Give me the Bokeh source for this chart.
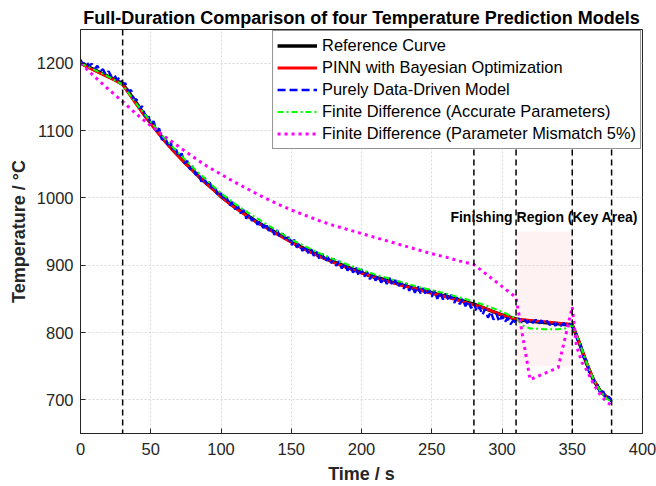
from bokeh.plotting import figure
from bokeh.models import (Span, BoxAnnotation, Label, Legend, LegendItem,
                          FixedTicker, Range1d)
from bokeh.embed import file_html
from bokeh.resources import INLINE

# ---------------- data ----------------
t_ref = list(range(0, 376, 5)) + [378]
ref_curve = [1200, 1195, 1190, 1185, 1180, 1175, 1169, 1155, 1140, 1125,
             1111, 1098, 1085, 1073, 1062, 1051, 1041, 1030, 1021, 1012,
             1002, 994, 986, 979, 972, 965, 959, 953, 947, 941,
             935, 929, 924, 919, 914, 909, 905, 901, 897, 893,
             889, 885, 882, 879, 876, 873, 870, 867, 864, 862,
             859, 856, 854, 851, 848, 845, 842, 838, 834, 830,
             826, 823, 820, 818, 817, 816, 815, 814, 813, 812,
             811, 785, 755, 730, 713, 703,
             700]
pinn_bo = [1200, 1194, 1189, 1184, 1179, 1174, 1168, 1153, 1138, 1124,
           1110, 1097, 1084, 1072, 1061, 1050, 1040, 1030, 1020, 1011,
           1002, 993, 985, 978, 971, 964, 958, 952, 946, 940,
           934, 928, 923, 918, 913, 909, 904, 900, 896, 892,
           888, 885, 881, 878, 875, 872, 869, 867, 864, 861,
           858, 856, 853, 850, 847, 844, 841, 838, 834, 830,
           826, 823, 820, 819, 818, 817, 816, 815, 814, 813,
           812, 786, 756, 731, 713, 703,
           700]

t_dd = list(range(0, 379, 2))
data_driven = [1205, 1198, 1203, 1196, 1199, 1191, 1196, 1188, 1191, 1183,
               1188, 1180, 1183, 1175, 1179, 1170, 1170, 1158, 1160, 1146,
               1146, 1133, 1136, 1121, 1125, 1108, 1114, 1099, 1103, 1086,
               1092, 1079, 1084, 1068, 1072, 1060, 1066, 1051, 1055, 1042,
               1047, 1034, 1038, 1024, 1031, 1018, 1023, 1011, 1014, 1002,
               1007, 996, 1001, 988, 994, 983, 988, 977, 982, 969,
               977, 966, 970, 960, 966, 955, 962, 951, 957, 945,
               952, 941, 947, 936, 942, 929, 938, 926, 932, 921,
               929, 918, 925, 914, 920, 909, 917, 905, 912, 902,
               910, 899, 906, 895, 903, 892, 899, 889, 897, 884,
               894, 883, 890, 879, 887, 877, 885, 874, 882, 872,
               881, 870, 878, 867, 875, 865, 873, 862, 870, 859,
               869, 858, 866, 855, 864, 853, 862, 850, 860, 849,
               858, 847, 856, 844, 852, 842, 850, 839, 847, 836,
               844, 831, 838, 826, 835, 822, 831, 819, 828, 816,
               825, 815, 822, 812, 818, 814, 821, 815, 820, 814,
               820, 814, 819, 813, 818, 812, 817, 811, 816, 810,
               815, 810, 814, 809, 813, 808, 804, 786, 782, 763,
               759, 741, 739, 723, 723, 709, 713, 701, 705, 697]

t_fd = [0, 10, 20, 30, 40, 50, 60, 70, 80, 90, 100, 110, 120, 130, 140, 150,
        160, 170, 180, 190, 200, 210, 220, 230, 240, 250, 260, 270, 280, 290,
        300, 310, 315, 320, 330, 340, 345, 350, 355, 360, 365, 370, 375, 378]
fd_accurate = [1200, 1190, 1180, 1168, 1139, 1113, 1088, 1066, 1045, 1026,
               1007, 991, 977, 964, 951, 938, 928, 918, 909, 901, 893, 886,
               880, 874, 868, 863, 858, 852, 846, 839, 831, 821, 810, 806,
               805, 805, 806, 811, 786, 756, 731, 713, 701, 697]

t_mm = [0, 10, 20, 30, 40, 50, 60, 70, 80, 90, 100, 110, 120, 130, 140, 150,
        160, 170, 180, 190, 200, 210, 220, 230, 240, 250, 260, 270, 280,
        310, 320, 340, 350, 353, 357, 360, 365, 370, 375, 378]
fd_mismatch = [1200, 1180, 1161, 1143, 1124, 1107, 1091, 1076, 1061, 1047,
               1035, 1023, 1012, 1001, 991, 982, 974, 966, 959, 953, 947,
               941, 935, 929, 923, 917, 912, 906, 901,
               852, 730, 748, 838, 780, 755, 745, 724, 707, 696, 692]

key_times = [30, 280, 310, 350, 378]
key_region = {"start": 310, "end": 350, "low": 750, "high": 950}
x_ticks = [0, 50, 100, 150, 200, 250, 300, 350, 400]
y_ticks = [700, 800, 900, 1000, 1100, 1200]

title_text = "Full-Duration Comparison of four Temperature Prediction Models"
region_text = "Finishing Region (Key Area)"
names = ["Reference Curve", "PINN with Bayesian Optimization",
         "Purely Data-Driven Model", "Finite Difference (Accurate Parameters)",
         "Finite Difference (Parameter Mismatch 5%)"]

# ---------------- figure ----------------
FONT = "Liberation Sans"
AX = "#262626"

p = figure(width=656, height=486, output_backend="svg", toolbar_location=None,
           x_range=Range1d(0, 400), y_range=Range1d(650, 1250),
           min_border_left=80, min_border_right=14, min_border_top=29,
           min_border_bottom=51, title=title_text)
p.title.align = "center"
p.title.text_font = FONT
p.title.text_font_size = "18px"
p.title.text_font_style = "bold"
p.title.text_color = "black"
p.title.standoff = 4
p.background_fill_color = "white"
p.border_fill_color = "white"
p.outline_line_color = AX
p.outline_line_width = 1

for ax in (p.xaxis[0], p.yaxis[0]):
    ax.major_label_text_font = FONT
    ax.major_label_text_font_size = "16.5px"
    ax.major_label_text_color = AX
    ax.axis_label_text_font = FONT
    ax.axis_label_text_font_size = "18px"
    ax.axis_label_text_font_style = "bold"
    ax.axis_label_text_color = AX
    ax.axis_line_color = AX
    ax.major_tick_line_color = AX
    ax.major_tick_in = 5
    ax.major_tick_out = 0
    ax.minor_tick_line_color = None

p.xaxis[0].ticker = FixedTicker(ticks=x_ticks)
p.yaxis[0].ticker = FixedTicker(ticks=y_ticks)
p.xaxis[0].axis_label = "Time / s"
p.yaxis[0].axis_label = "Temperature / °C"
p.xaxis[0].major_label_standoff = 9
p.xaxis[0].axis_label_standoff = 6
p.yaxis[0].major_label_standoff = 7
p.yaxis[0].axis_label_standoff = 5

for g in (p.xgrid[0], p.ygrid[0]):
    g.grid_line_color = "#d9d9d9"
    g.grid_line_dash = "2 2"
    g.grid_line_width = 1
p.xgrid[0].ticker = FixedTicker(ticks=x_ticks)
p.ygrid[0].ticker = FixedTicker(ticks=y_ticks)

# shaded key region
p.add_layout(BoxAnnotation(left=key_region["start"], right=key_region["end"],
                           bottom=key_region["low"], top=key_region["high"],
                           fill_color="#ff0000", fill_alpha=0.05,
                           line_alpha=0, level="underlay"))

r_ref = p.line(t_ref, ref_curve, line_color="black", line_width=3.5)
r_pinn = p.line(t_ref, pinn_bo, line_color="#ff0000", line_width=2.8)
r_dd = p.line(t_dd, data_driven, line_color="#0000ff", line_width=2.4,
              line_dash="8 4")
r_fd = p.line(t_fd, fd_accurate, line_color="#00ff00", line_width=2,
              line_dash="6 3 2 3")
r_mm = p.line(t_mm, fd_mismatch, line_color="#ff00ff", line_width=3,
              line_dash="3 4")

for tk in key_times:
    p.add_layout(Span(location=tk, dimension="height", line_color="black",
                      line_width=1.5, line_dash="6 4"))

p.add_layout(Label(x=330, y=971, text=region_text, text_align="center",
                   text_baseline="middle", text_font=FONT,
                   text_font_size="14px", text_font_style="bold",
                   text_color="black"))

legend = Legend(items=[LegendItem(label=n, renderers=[r]) for n, r in
                       zip(names, [r_ref, r_pinn, r_dd, r_fd, r_mm])],
                location="top_right", margin=1, padding=4, spacing=1,
                glyph_width=40, glyph_height=21, label_height=21,
                label_standoff=5, label_text_font=FONT,
                label_text_font_size="16.4px", label_text_color="black",
                border_line_color=AX, border_line_width=1,
                background_fill_color="white", background_fill_alpha=1)
p.add_layout(legend)

open("out.html", "w").write(file_html(p, INLINE))
